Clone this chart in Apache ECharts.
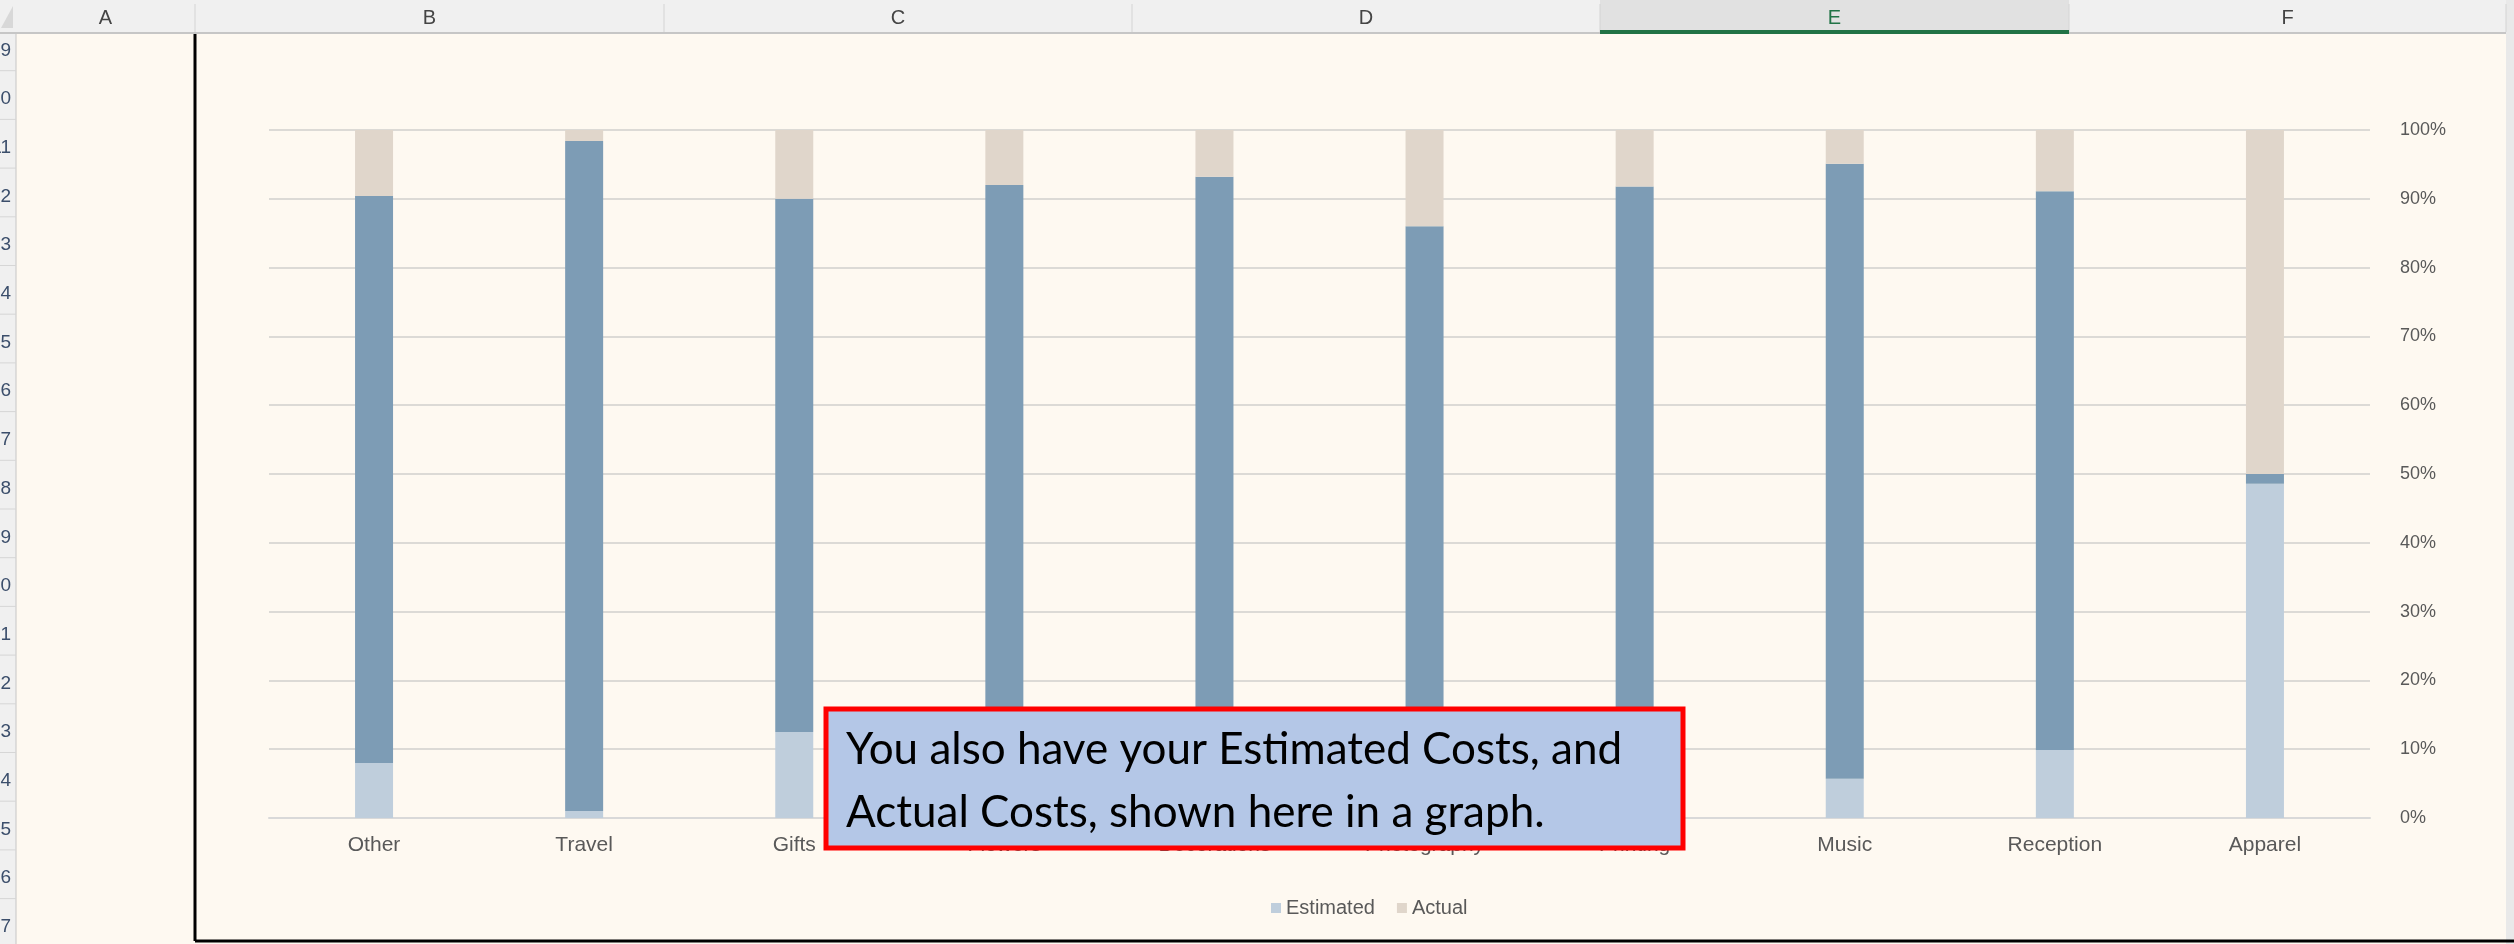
<!DOCTYPE html>
<html>
<head>
<meta charset="utf-8">
<title>Estimated vs Actual</title>
<script src="https://cdn.jsdelivr.net/npm/echarts@6/dist/echarts.min.js"></script>
<style>
  html, body { margin: 0; padding: 0; background: #fef9f1; }
  #chart { width: 2514px; height: 944px; }
</style>
</head>
<body>
<div id="chart"></div>
<script>
// category names along the bottom
var categories = ['Other', 'Travel', 'Gifts', 'Flowers', 'Decorations', 'Photography', 'Printing', 'Music', 'Reception', 'Apparel'];
// share of each column, in percent (100% stacked)
var estimated = [8.0, 1.0, 12.5, 6.0, 5.0, 7.0, 6.0, 5.7, 9.9, 48.6];
var difference = [82.4, 97.4, 77.5, 86.0, 88.2, 79.0, 85.8, 89.4, 81.2, 1.4];
var actual = [9.6, 1.6, 10.0, 8.0, 6.8, 14.0, 8.2, 4.9, 8.9, 50.0];
var yTicks = [0, 10, 20, 30, 40, 50, 60, 70, 80, 90, 100];
var colLetters = ['A', 'B', 'C', 'D', 'E', 'F'];
var rowNumbers = [9, 10, 11, 12, 13, 14, 15, 16, 17, 18, 19, 20, 21, 22, 23, 24, 25, 26, 27];

var myChart = echarts.init(document.getElementById('chart'));

var colEdges = [16, 195, 664, 1132, 1600, 2069, 2506];
var headH = 34;
var rowH = 48.7;

var sheet = [];
// column header strip
sheet.push({ type: 'rect', shape: { x: 0, y: 0, width: 2514, height: headH }, style: { fill: '#f0f0f0' }, z: 1 });
sheet.push({ type: 'rect', shape: { x: colEdges[4], y: 0, width: colEdges[5] - colEdges[4], height: headH }, style: { fill: '#e1e1e1' }, z: 1 });
sheet.push({ type: 'line', shape: { x1: 0, y1: headH - 1, x2: 2506, y2: headH - 1 }, style: { stroke: '#c6c6c6', lineWidth: 2 }, z: 2 });
sheet.push({ type: 'rect', shape: { x: colEdges[4], y: headH - 4, width: colEdges[5] - colEdges[4], height: 4 }, style: { fill: '#217346' }, z: 3 });
for (var i = 0; i < colLetters.length; i++) {
    sheet.push({ type: 'line', shape: { x1: colEdges[i + 1], y1: 4, x2: colEdges[i + 1], y2: headH - 2 }, style: { stroke: '#d4d4d4', lineWidth: 1 }, z: 2 });
    sheet.push({
        type: 'text', z: 3,
        style: {
            x: (colEdges[i] + colEdges[i + 1]) / 2, y: headH / 2 + 1,
            text: colLetters[i], align: 'center', verticalAlign: 'middle',
            fill: i === 4 ? '#217346' : '#444', font: '20px "Liberation Sans", Arial'
        }
    });
}
// row header strip
sheet.push({ type: 'rect', shape: { x: 0, y: headH, width: colEdges[0], height: 944 - headH }, style: { fill: '#f0f0f0' }, z: 1 });
sheet.push({ type: 'polygon', shape: { points: [[13, 6], [13, 28], [1, 28]] }, style: { fill: '#d8d8d8' }, z: 2 });
sheet.push({ type: 'line', shape: { x1: colEdges[0], y1: headH, x2: colEdges[0], y2: 944 }, style: { stroke: '#c6c6c6', lineWidth: 1 }, z: 2 });
for (var r = 0; r < rowNumbers.length; r++) {
    var rowTop = 22 + r * rowH;
    sheet.push({ type: 'line', shape: { x1: 0, y1: rowTop + rowH, x2: colEdges[0], y2: rowTop + rowH }, style: { stroke: '#d6d6d6', lineWidth: 1 }, z: 2 });
    sheet.push({
        type: 'text', z: 3,
        style: {
            x: 11, y: rowTop + rowH / 2 + 4, text: String(rowNumbers[r]),
            align: 'right', verticalAlign: 'middle', fill: '#3b4e6b', font: '19px "Liberation Sans", Arial'
        }
    });
}
// scroll edge on the right
sheet.push({ type: 'rect', shape: { x: 2506, y: 0, width: 8, height: 944 }, style: { fill: '#e9e9e9' }, z: 1 });
// chart frame (left and bottom edge visible)
sheet.push({ type: 'line', shape: { x1: 195, y1: headH, x2: 195, y2: 941 }, style: { stroke: '#000', lineWidth: 3 }, z: 5 });
sheet.push({ type: 'line', shape: { x1: 195, y1: 941, x2: 2514, y2: 941 }, style: { stroke: '#000', lineWidth: 3 }, z: 5 });

// the red callout box
sheet.push({
    type: 'rect', z: 100,
    shape: { x: 826, y: 709, width: 857, height: 139 },
    style: { fill: '#b4c7e7', stroke: '#ff0000', lineWidth: 5 }
});
sheet.push({
    type: 'text', z: 101,
    style: { x: 846, y: 750, text: 'You also have your Estimated Costs, and', verticalAlign: 'middle', fill: '#000', font: '44px Lato, "Open Sans", sans-serif' }
});
sheet.push({
    type: 'text', z: 101,
    style: { x: 846, y: 813, text: 'Actual Costs, shown here in a graph.', verticalAlign: 'middle', fill: '#000', font: '44px Lato, "Open Sans", sans-serif' }
});

option = {
    backgroundColor: '#fef9f1',
    animation: false,
    textStyle: { fontFamily: '"Liberation Sans", Arial, sans-serif' },
    legend: {
        data: ['Estimated', 'Actual'],
        left: 1266,
        top: 893,
        icon: 'rect',
        itemWidth: 10,
        itemHeight: 10,
        itemGap: 22,
        textStyle: { color: '#595959', fontSize: 20 }
    },
    grid: { left: 269, right: 144, top: 130, bottom: 126, containLabel: false },
    xAxis: {
        type: 'category',
        data: categories,
        axisLine: { show: true, lineStyle: { color: '#d9d9d9', width: 2 } },
        axisTick: { show: false },
        axisLabel: { color: '#595959', fontSize: 21, margin: 17 }
    },
    yAxis: {
        type: 'value',
        position: 'right',
        min: yTicks[0],
        max: yTicks[yTicks.length - 1],
        interval: yTicks[1] - yTicks[0],
        axisLine: { show: false },
        axisTick: { show: false },
        splitLine: { lineStyle: { color: '#dcdad6', width: 2 } },
        axisLabel: { color: '#595959', fontSize: 18, margin: 30, formatter: '{value}%' }
    },
    series: [
        { name: 'Estimated', type: 'bar', stack: 'cost', barWidth: 38, data: estimated, itemStyle: { color: '#bfcedc' } },
        { name: 'Difference', type: 'bar', stack: 'cost', barWidth: 38, data: difference, itemStyle: { color: '#7d9cb5' } },
        { name: 'Actual', type: 'bar', stack: 'cost', barWidth: 38, data: actual, itemStyle: { color: '#e0d6cb' } }
    ],
    graphic: sheet
};

myChart.setOption(option);
</script>
</body>
</html>
